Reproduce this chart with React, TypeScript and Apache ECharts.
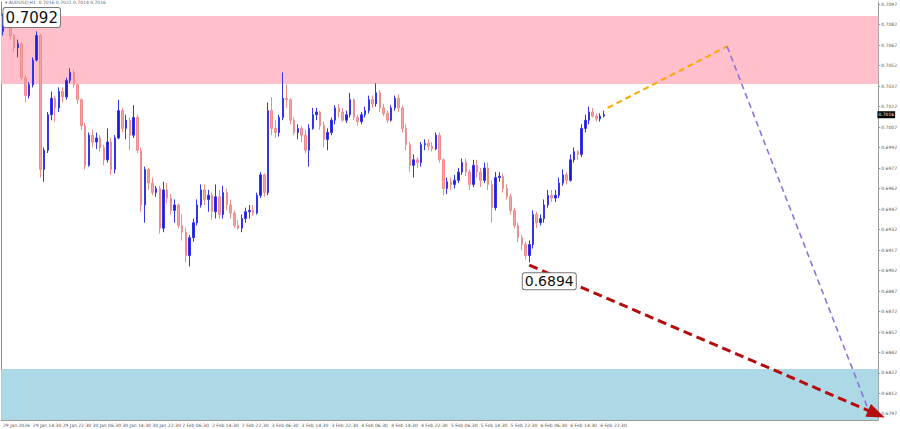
import React, { useEffect, useRef } from "react";
import * as echarts from "echarts";

// Hourly bars, AUDUSD
const firstOpen = 0.7077;
const closes = [
  0.7087, 0.7082, 0.7074, 0.7065, 0.7068, 0.7043, 0.7030, 0.7038, 0.7056, 0.7074,
  0.6976, 0.6990, 0.7016, 0.7028, 0.7021, 0.7033, 0.7029, 0.7041, 0.7047, 0.7038,
  0.7027, 0.7008, 0.6979, 0.7001, 0.6996, 0.6999, 0.6992, 0.6983, 0.6996, 0.6976,
  0.6999, 0.7019, 0.7006, 0.7012, 0.7001, 0.7014, 0.6990, 0.6950, 0.6976, 0.6966,
  0.6959, 0.6962, 0.6933, 0.6961, 0.6955, 0.6946, 0.6950, 0.6935, 0.6930, 0.6913,
  0.6926, 0.6937, 0.6950, 0.6961, 0.6954, 0.6957, 0.6945, 0.6956, 0.6943, 0.6959,
  0.6950, 0.6944, 0.6935, 0.6933, 0.6940, 0.6945, 0.6946, 0.6944, 0.6957, 0.6972,
  0.6959, 0.7019, 0.7006, 0.7003, 0.7014, 0.7028, 0.7027, 0.7012, 0.7003, 0.7006,
  0.7001, 0.6990, 0.7006, 0.7016, 0.7018, 0.7008, 0.6998, 0.7003, 0.7012, 0.7021,
  0.7018, 0.7012, 0.7016, 0.7027, 0.7014, 0.7011, 0.7016, 0.7019, 0.7027, 0.7024,
  0.7032, 0.7021, 0.7017, 0.7012, 0.7021, 0.7028, 0.7021, 0.7006, 0.6994, 0.6979,
  0.6983, 0.6981, 0.6994, 0.6995, 0.6993, 0.6991, 0.7001, 0.6983, 0.6962, 0.6967,
  0.6965, 0.6968, 0.6974, 0.6981, 0.6974, 0.6965, 0.6979, 0.6974, 0.6968, 0.6977,
  0.6965, 0.6948, 0.6970, 0.6971, 0.6962, 0.6956, 0.6946, 0.6935, 0.6926, 0.6921,
  0.6913, 0.6921, 0.6943, 0.6937, 0.6940, 0.6950, 0.6957, 0.6955, 0.6957, 0.6966,
  0.6972, 0.6968, 0.6983, 0.6989, 0.6987, 0.7006, 0.7012, 0.7018, 0.7015, 0.7013,
  0.7015, 0.7016,
];
const highs = [
  0.7090, 0.7090, 0.7084, 0.7075, 0.7071, 0.7069, 0.7045, 0.7040, 0.7058, 0.7077,
  0.7075, 0.6992, 0.7018, 0.7033, 0.7030, 0.7036, 0.7036, 0.7043, 0.7050, 0.7049,
  0.7039, 0.7028, 0.7010, 0.7003, 0.7005, 0.7003, 0.7001, 0.6994, 0.7006, 0.6999,
  0.7001, 0.7027, 0.7021, 0.7016, 0.7014, 0.7023, 0.7016, 0.6992, 0.6978, 0.6977,
  0.6970, 0.6964, 0.6964, 0.6967, 0.6966, 0.6958, 0.6954, 0.6951, 0.6943, 0.6933,
  0.6928, 0.6940, 0.6954, 0.6965, 0.6965, 0.6961, 0.6959, 0.6965, 0.6961, 0.6964,
  0.6962, 0.6954, 0.6946, 0.6939, 0.6943, 0.6948, 0.6950, 0.6950, 0.6959, 0.6974,
  0.6973, 0.7025, 0.7029, 0.7012, 0.7016, 0.7047, 0.7038, 0.7028, 0.7014, 0.7009,
  0.7008, 0.7005, 0.7009, 0.7021, 0.7021, 0.7019, 0.7011, 0.7006, 0.7014, 0.7023,
  0.7024, 0.7021, 0.7019, 0.7032, 0.7028, 0.7016, 0.7018, 0.7022, 0.7030, 0.7030,
  0.7039, 0.7034, 0.7024, 0.7019, 0.7023, 0.7030, 0.7031, 0.7023, 0.7009, 0.6996,
  0.6987, 0.6985, 0.6996, 0.6998, 0.6998, 0.6996, 0.7003, 0.7003, 0.6984, 0.6970,
  0.6970, 0.6972, 0.6977, 0.6984, 0.6984, 0.6976, 0.6983, 0.6983, 0.6977, 0.6981,
  0.6981, 0.6968, 0.6974, 0.6974, 0.6973, 0.6965, 0.6958, 0.6948, 0.6937, 0.6928,
  0.6923, 0.6924, 0.6946, 0.6945, 0.6943, 0.6954, 0.6961, 0.6961, 0.6961, 0.6970,
  0.6976, 0.6974, 0.6987, 0.6992, 0.6990, 0.7009, 0.7016, 0.7022, 0.7021, 0.7017,
  0.7017, 0.7019,
];
const lows = [
  0.7074, 0.7080, 0.7071, 0.7062, 0.7058, 0.7041, 0.7025, 0.7028, 0.7036, 0.7055,
  0.6970, 0.6967, 0.6988, 0.7012, 0.7011, 0.7018, 0.7025, 0.7027, 0.7039, 0.7036,
  0.7024, 0.7005, 0.6976, 0.6978, 0.6992, 0.6991, 0.6989, 0.6979, 0.6981, 0.6972,
  0.6973, 0.6998, 0.7003, 0.6998, 0.6990, 0.6999, 0.6988, 0.6945, 0.6937, 0.6961,
  0.6957, 0.6956, 0.6929, 0.6930, 0.6951, 0.6943, 0.6937, 0.6933, 0.6924, 0.6908,
  0.6905, 0.6923, 0.6935, 0.6948, 0.6950, 0.6945, 0.6939, 0.6940, 0.6940, 0.6940,
  0.6946, 0.6940, 0.6933, 0.6932, 0.6930, 0.6937, 0.6940, 0.6942, 0.6943, 0.6955,
  0.6956, 0.6957, 0.7001, 0.6999, 0.7000, 0.7012, 0.7021, 0.7009, 0.7001, 0.6998,
  0.6996, 0.6988, 0.6978, 0.7005, 0.7012, 0.7005, 0.6992, 0.6990, 0.7001, 0.7009,
  0.7014, 0.7011, 0.7010, 0.7014, 0.7012, 0.7008, 0.7009, 0.7014, 0.7017, 0.7021,
  0.7022, 0.7018, 0.7015, 0.7010, 0.7011, 0.7019, 0.7018, 0.7003, 0.6990, 0.6974,
  0.6970, 0.6977, 0.6978, 0.6990, 0.6990, 0.6989, 0.6990, 0.6981, 0.6957, 0.6958,
  0.6961, 0.6962, 0.6966, 0.6972, 0.6971, 0.6961, 0.6963, 0.6970, 0.6963, 0.6966,
  0.6961, 0.6937, 0.6946, 0.6967, 0.6959, 0.6954, 0.6943, 0.6933, 0.6923, 0.6917,
  0.6910, 0.6908, 0.6918, 0.6933, 0.6935, 0.6937, 0.6948, 0.6952, 0.6952, 0.6955,
  0.6964, 0.6965, 0.6967, 0.6981, 0.6983, 0.6985, 0.7003, 0.7009, 0.7014, 0.7011,
  0.7011, 0.7014,
];

const tickLabels = [
  "29 Jan 2026", "29 Jan 14:30", "29 Jan 22:30", "30 Jan 06:30", "30 Jan 14:30",
  "30 Jan 22:30", "2 Feb 06:30", "2 Feb 14:30", "2 Feb 22:30", "3 Feb 06:30",
  "3 Feb 14:30", "3 Feb 22:30", "4 Feb 06:30", "4 Feb 14:30", "4 Feb 22:30",
  "5 Feb 06:30", "5 Feb 14:30", "5 Feb 22:30", "6 Feb 06:30", "6 Feb 14:30",
  "6 Feb 22:30",
];
const yTicks = [
  0.6797, 0.6812, 0.6827, 0.6842, 0.6857, 0.6872, 0.6887, 0.6902, 0.6917, 0.6932,
  0.6947, 0.6962, 0.6977, 0.6992, 0.7007, 0.7022, 0.7037, 0.7052, 0.7067, 0.7082,
  0.7097,
];
const slotCount = 235;
const barsPerLabel = 8;

// zones
const sellZone = [0.70883, 0.70385];
const buyZone = [0.6830, 0.67926];
// projected waves [barIndex, price]
const orangeWave = [[162, 0.7021], [194, 0.7066]];
const purpleWave = [[194, 0.7066], [232, 0.6799]];
const redWave = [[141, 0.6906], [234, 0.6797]];
const lastPrice = 0.7016;
const markHigh = { index: 1, price: 0.7090, text: "0.7092" };
const markLow = { index: 141, price: 0.6908, text: "0.6894" };

export default function App() {
  const ref = useRef<HTMLDivElement>(null);
  useEffect(() => {
    if (!ref.current) return;
    const chart = echarts.init(ref.current, undefined, { renderer: "svg" });
    const categories = Array.from({ length: slotCount }, (_, i) => String(i));
    const ohlc = closes.map((c, i) => {
      const o = i === 0 ? firstOpen : closes[i - 1];
      return [o, c, Math.min(lows[i], o, c), Math.max(highs[i], o, c)];
    });
    const font = "DejaVu Sans";
    const option: any = {
      animation: false,
      backgroundColor: "#ffffff",
      title: {
        text: "▾ AUDUSD,H1  0.7016 0.7021 0.7014 0.7016",
        left: 5,
        top: 0,
        padding: 0,
        textStyle: { fontSize: 4.5, fontWeight: "normal", color: "#666", fontFamily: font, lineHeight: 5 },
      },
      grid: { left: 1, right: 16, top: 2, bottom: 9 },
      xAxis: {
        type: "category",
        data: categories,
        boundaryGap: true,
        axisLine: { show: true, lineStyle: { color: "#9a9a9a", width: 1 } },
        axisTick: { show: false },
        splitLine: { show: false },
        axisLabel: {
          interval: (idx: number) => idx % barsPerLabel === 0 && idx / barsPerLabel < tickLabels.length,
          formatter: (_v: string, idx: number) => tickLabels[idx / barsPerLabel] ?? "",
          fontSize: 4.5,
          color: "#555",
          align: "left",
          margin: 3,
          fontFamily: font,
        },
      },
      yAxis: [
        {
          type: "value",
          position: "right",
          min: 0.67926,
          max: 0.70985,
          scale: true,
          axisLine: { show: true, lineStyle: { color: "#9a9a9a", width: 1 } },
          axisTick: { show: true, length: 2, customValues: yTicks, lineStyle: { color: "#9a9a9a" } },
          splitLine: { show: false },
          axisLabel: {
            customValues: yTicks,
            formatter: (v: number) => v.toFixed(4),
            fontSize: 4.5,
            color: "#555",
            margin: 3,
            fontFamily: font,
          },
        },
        {
          type: "value",
          position: "left",
          min: 0.67926,
          max: 0.70985,
          axisLine: { show: true, lineStyle: { color: "#8a8a8a", width: 1 } },
          axisTick: { show: false },
          axisLabel: { show: false },
          splitLine: { show: false },
        },
      ],
      series: [
        {
          type: "line",
          data: [],
          z: 1,
          silent: true,
          markArea: {
            silent: true,
            data: [
              [{ yAxis: sellZone[0], itemStyle: { color: "#FFC0CB", opacity: 1 } }, { yAxis: sellZone[1] }],
              [{ yAxis: buyZone[0], itemStyle: { color: "#ADD8E6", opacity: 1 } }, { yAxis: buyZone[1] }],
            ],
          },
        },
        {
          type: "candlestick",
          data: ohlc,
          z: 3,
          barWidth: 2,
          itemStyle: {
            color: "#1a1ae6",
            color0: "#f5a3a3",
            borderColor: "#3434e8",
            borderColor0: "#f08c8c",
            borderWidth: 1,
          },
          markPoint: {
            symbol: "rect",
            symbolSize: 0,
            silent: true,
            data: [
              {
                coord: [markHigh.index, markHigh.price],
                label: {
                  show: true,
                  formatter: markHigh.text,
                  position: "inside",
                  offset: [25, 4],
                  fontSize: 15,
                  lineHeight: 18,
                  color: "#111",
                  fontFamily: font,
                  backgroundColor: "#ffffff",
                  borderColor: "#777",
                  borderWidth: 1,
                  borderRadius: 2,
                  padding: [1, 2, 0, 2],
                },
              },
              {
                coord: [markLow.index, markLow.price],
                label: {
                  show: true,
                  formatter: markLow.text,
                  position: "inside",
                  offset: [20, 19],
                  fontSize: 14,
                  color: "#111",
                  fontFamily: font,
                  backgroundColor: "#ffffff",
                  borderColor: "#777",
                  borderWidth: 1,
                  borderRadius: 2,
                  padding: [1, 2, 1, 2],
                },
              },
            ],
          },
        },
        {
          type: "line",
          data: [],
          z: 4,
          silent: true,
          markLine: {
            silent: true,
            symbol: ["none", "none"],
            label: { show: false },
            data: [
              [
                { coord: orangeWave[0], lineStyle: { color: "#FFA500", width: 2, type: [6, 4] }, symbol: "none" },
                { coord: orangeWave[1], symbol: "none" },
              ],
              [
                { coord: purpleWave[0], lineStyle: { color: "#9370DB", width: 1.6, type: [6, 4] }, symbol: "none" },
                { coord: purpleWave[1], symbol: "none" },
              ],
              [
                { coord: redWave[0], lineStyle: { color: "#b50d0d", width: 3, type: [9, 5] }, symbol: "none" },
                { coord: redWave[1], symbol: "triangle", symbolSize: [14, 18] },
              ],
              [
                {
                  coord: [0, lastPrice],
                  symbol: "none",
                  lineStyle: { color: "rgba(0,0,0,0)", width: 0 },
                  label: {
                    show: true,
                    position: "end",
                    distance: 1,
                    formatter: lastPrice.toFixed(4),
                    backgroundColor: "#000000",
                    color: "#ffffff",
                    fontSize: 4.5,
                    padding: [1, 1],
                    fontFamily: font,
                  },
                },
                { coord: [slotCount - 1, lastPrice], symbol: "none" },
              ],
            ],
          },
        },
      ],
    };
    chart.setOption(option);
    return () => chart.dispose();
  }, []);
  return (
    <div
      ref={ref}
      style={{ position: "fixed", left: 0, top: 0, width: 900, height: 429, background: "#fff" }}
    />
  );
}
